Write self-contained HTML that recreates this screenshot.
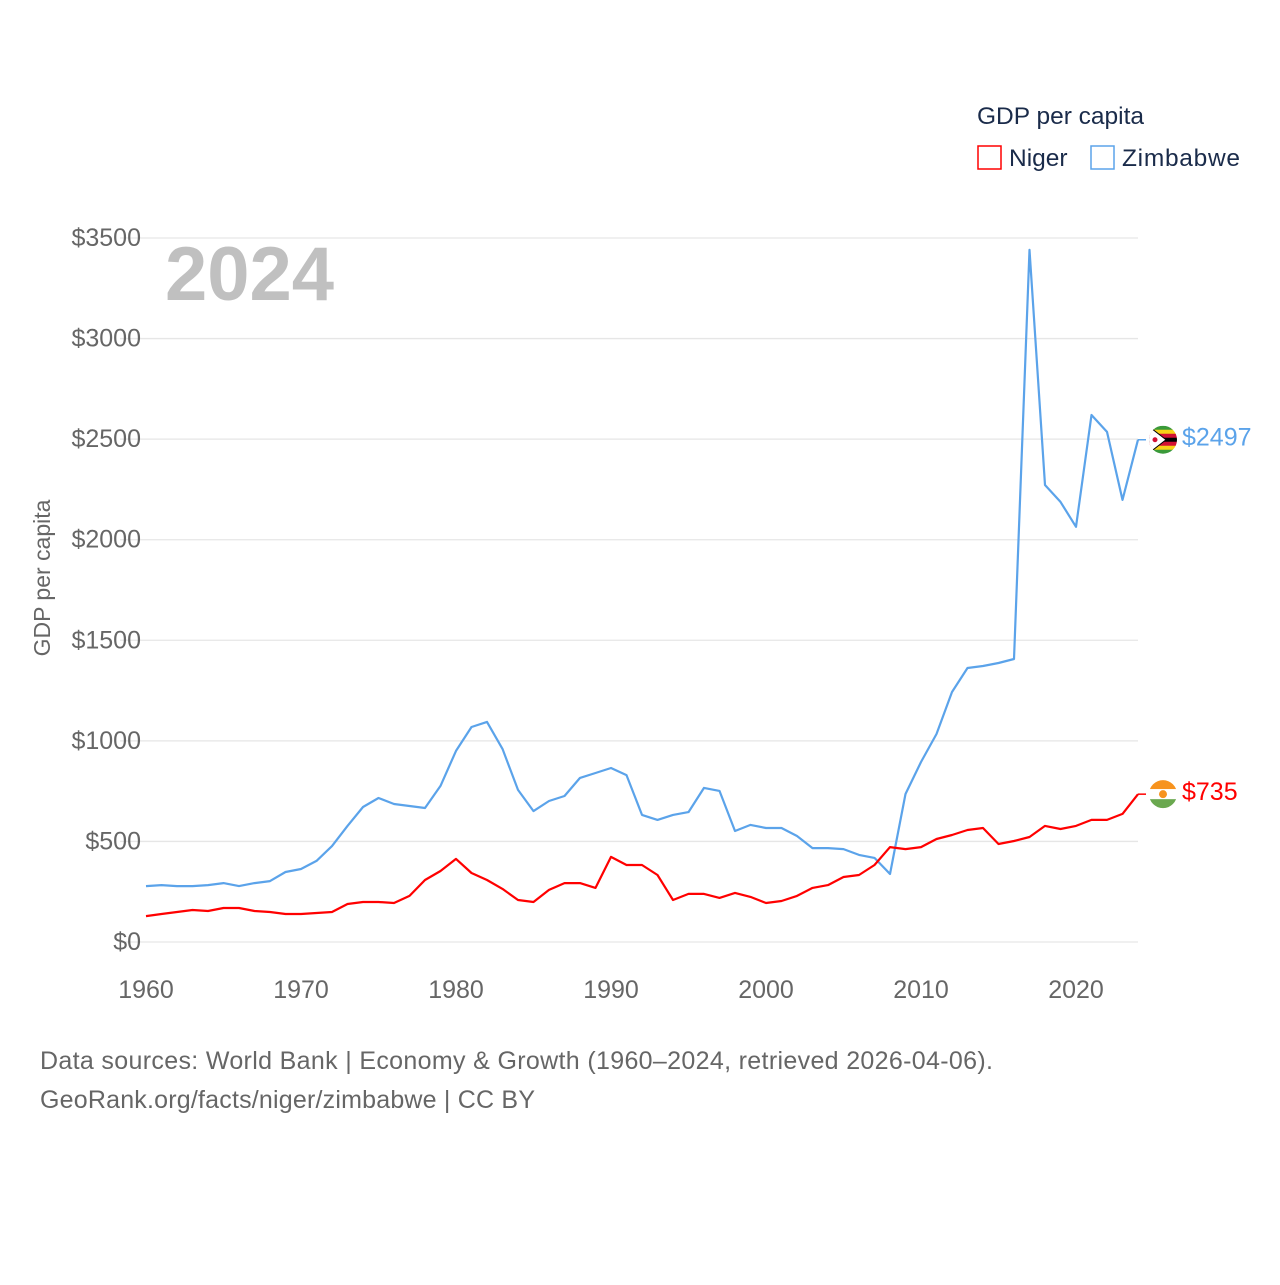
<!DOCTYPE html>
<html><head><meta charset="utf-8"><style>
body{margin:0;background:#fff;font-family:"Liberation Sans",sans-serif}
svg text{font-family:"Liberation Sans",sans-serif}
</style></head><body>
<svg id="chart" width="1280" height="1280" xmlns="http://www.w3.org/2000/svg">
<rect width="1280" height="1280" fill="#fff"/>
<g id="grid"></g>
<g id="yticks"></g>
<g id="xticks"></g>
<text x="165" y="300" font-size="76" font-weight="bold" fill="#c0c0c0">2024</text>
<text transform="translate(50,578) rotate(-90)" text-anchor="middle" font-size="23" fill="#666">GDP per capita</text>
<g id="series"></g>
<g>
<text x="977" y="124" font-size="24.5" fill="#1a2b4a">GDP per capita</text>
<g><rect x="978" y="146" width="23" height="23" fill="none" stroke="#ff0000" stroke-width="1.5"/><text x="1009" y="166" font-size="24.5" fill="#1a2b4a">Niger</text></g>
<g><rect x="1091" y="146" width="23" height="23" fill="none" stroke="#5ba3ea" stroke-width="1.5"/><text x="1122" y="166" font-size="24.5" fill="#1a2b4a" textLength="118">Zimbabwe</text></g>
</g>
<text x="40" y="1069" font-size="25" fill="#666" textLength="953">Data sources: World Bank | Economy &amp; Growth (1960–2024, retrieved 2026-04-06).</text>
<text x="40" y="1108" font-size="25" fill="#666" textLength="495">GeoRank.org/facts/niger/zimbabwe | CC BY</text>
</svg>
<script>
const years=[];for(let y=1960;y<=2024;y++)years.push(y);
const zimbabwe=[278,283,278,278,283,293,278,293,303,348,363,403,477,577,671,716,686,676,666,776,950,1069,1094,960,756,651,701,726,816,840,865,830,632,607,632,646,766,751,552,582,567,567,527,467,467,462,433,418,338,736,895,1034,1243,1362,1372,1387,1407,3441,2272,2188,2064,2620,2536,2198,2497];
const niger=[129,139,149,159,154,169,169,154,149,139,139,144,149,189,199,199,194,229,308,353,413,343,308,264,209,199,259,293,293,269,423,383,383,333,209,239,239,219,244,224,194,204,229,269,283,323,333,383,472,462,472,512,532,557,567,487,502,522,577,562,577,607,607,637,735];
const yTicks=[0,500,1000,1500,2000,2500,3000,3500];
const xTicks=[1960,1970,1980,1990,2000,2010,2020];
const NS="http://www.w3.org/2000/svg";
const X=y=>146+(y-1960)*15.5;
const Y=v=>942-v*(704/3500);
function mk(tag,attrs,parent){const e=document.createElementNS(NS,tag);for(const k in attrs)e.setAttribute(k,attrs[k]);parent.appendChild(e);return e;}
const grid=document.getElementById('grid'),yt=document.getElementById('yticks'),xt=document.getElementById('xticks'),ser=document.getElementById('series');
yTicks.forEach(v=>{
 const l=mk('line',{x1:120,x2:1138,y1:Y(v),y2:Y(v),stroke:'#e6e6e6','stroke-width':1.3},grid);
 
 
 const t=mk('text',{x:141,y:Y(v)+8,'text-anchor':'end','font-size':25,fill:'#666'},yt);
 
 
 t.textContent='$'+v;
});
xTicks.forEach(y=>{
 const t=mk('text',{x:X(y),y:998,'text-anchor':'middle','font-size':25,fill:'#666'},xt);
 
 
 t.textContent=y;
});
function line(data,color,name){
 const d=data.map((v,i)=>(i?'L':'M')+X(years[i]).toFixed(1)+','+Y(v).toFixed(1)).join(' ');
 const p=mk('path',{d:d,fill:'none',stroke:color,'stroke-width':2.2,'stroke-linejoin':'round'},ser);
 
 
 const last=data[data.length-1],ly=Y(last);
 mk('line',{x1:X(2024),x2:1146,y1:ly,y2:ly,stroke:color,'stroke-width':1.5},ser);
 const t=mk('text',{x:1182,y:ly+6,'font-size':25,fill:color},ser);
 
 
 t.textContent='$'+last;
 return ly;
}
const zy=line(zimbabwe,'#5ba3ea','zimbabwe');
const ny=line(niger,'#ff0000','niger');
const fz=mk('g',{},ser);


[['#3a9a3a',-14],['#f7d117',-10],['#d21034',-6],['#000',-2],['#d21034',2],['#f7d117',6],['#3a9a3a',10]].forEach(([c,o])=>mk('rect',{x:1148,y:zy+o,width:30,height:4.3,fill:c},fz));
mk('path',{d:`M1148,${zy-14} L1166,${zy} L1148,${zy+14}Z`,fill:'#fff',stroke:'#000','stroke-width':1},fz);
mk('circle',{cx:1155,cy:zy,r:2.5,fill:'#d21034'},fz);
const cz=mk('clipPath',{id:'cz'},ser);mk('circle',{cx:1163,cy:zy,r:14},cz);fz.setAttribute('clip-path','url(#cz)');
const fn=mk('g',{},ser);


mk('rect',{x:1148,y:ny-15,width:30,height:10,fill:'#f7931e'},fn);
mk('rect',{x:1148,y:ny-5,width:30,height:10,fill:'#fff'},fn);
mk('rect',{x:1148,y:ny+5,width:30,height:10,fill:'#6aa84f'},fn);
mk('circle',{cx:1163,cy:ny,r:4,fill:'#f7931e'},fn);
const cn=mk('clipPath',{id:'cn'},ser);mk('circle',{cx:1163,cy:ny,r:14},cn);fn.setAttribute('clip-path','url(#cn)');
</script>
</body></html>
